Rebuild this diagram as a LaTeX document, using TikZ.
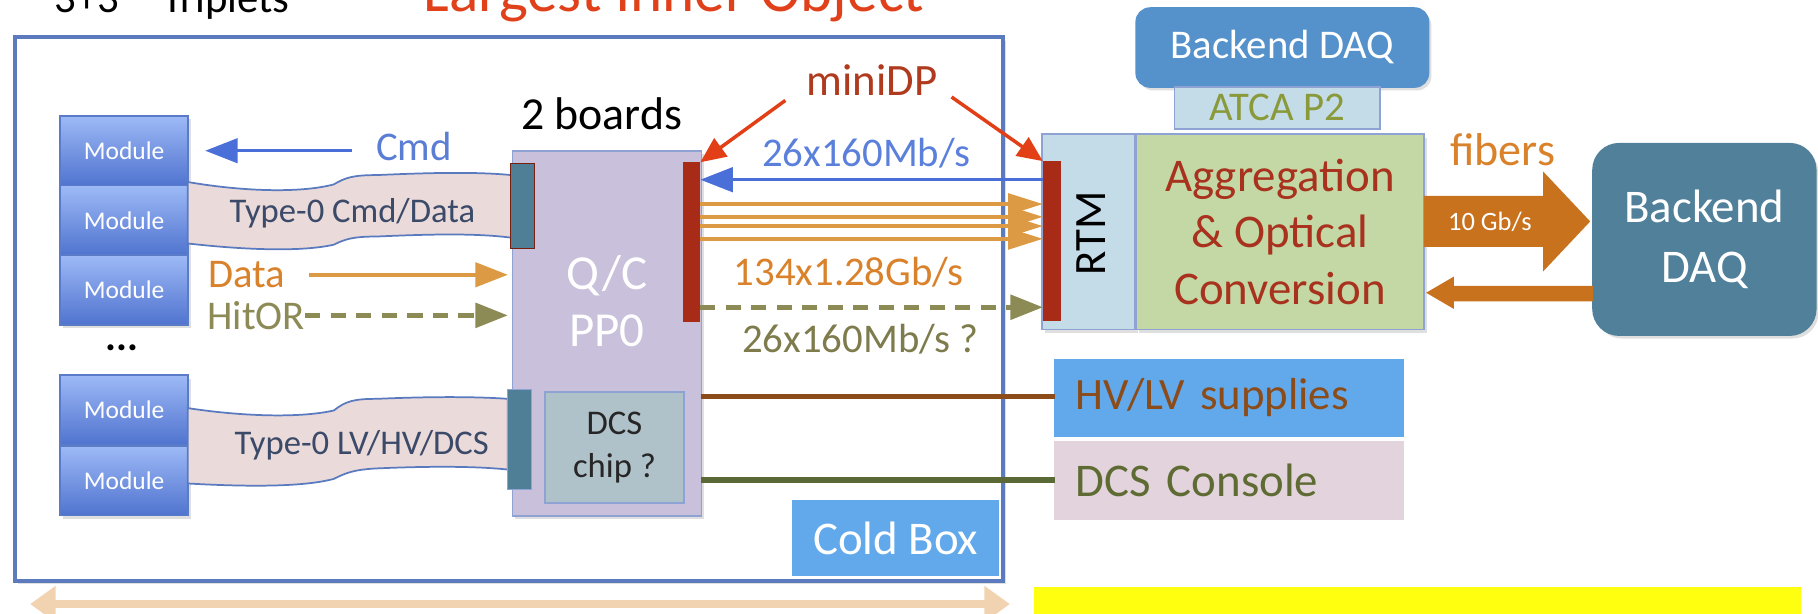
\documentclass[tikz,border=0pt]{standalone}
\usepackage{fontspec}
\setmainfont{Carlito}
\usetikzlibrary{arrows.meta,positioning,shadows}

\definecolor{coldline}{HTML}{5B7BBE}
\definecolor{modtop}{HTML}{9DB9F6}
\definecolor{modbot}{HTML}{5074CF}
\definecolor{modline}{HTML}{5A7BC8}
\definecolor{cmdblue}{HTML}{4A6FD8}
\definecolor{cmdtext}{HTML}{5A7ED4}
\definecolor{ribbon}{HTML}{EBDADA}
\definecolor{ribline}{HTML}{5A7ABF}
\definecolor{ribtext}{HTML}{3A4A68}
\definecolor{plugteal}{HTML}{4F7F96}
\definecolor{dataorange}{HTML}{DD9A45}
\definecolor{datatext}{HTML}{D9822B}
\definecolor{hitolive}{HTML}{8C8A55}
\definecolor{ppfill}{HTML}{C9C0DB}
\definecolor{ppline}{HTML}{8EA2D3}
\definecolor{redbar}{HTML}{A82B17}
\definecolor{chipfill}{HTML}{AFC1C9}
\definecolor{minitext}{HTML}{B03A1E}
\definecolor{miniarrow}{HTML}{E23F16}
\definecolor{ratetext}{HTML}{5B80DC}
\definecolor{rtmfill}{HTML}{C3DCE8}
\definecolor{aggfill}{HTML}{C3D8A5}
\definecolor{aggtext}{HTML}{A8321E}
\definecolor{atcatext}{HTML}{8A9A3A}
\definecolor{daqtop}{HTML}{5592CC}
\definecolor{daqright}{HTML}{50809A}
\definecolor{fiber}{HTML}{C8721E}
\definecolor{skyblue}{HTML}{62A9EC}
\definecolor{supplytext}{HTML}{8B4C1A}
\definecolor{consfill}{HTML}{E3D3DD}
\definecolor{constext}{HTML}{5E6B33}
\definecolor{brownline}{HTML}{8B4C1A}
\definecolor{greenline}{HTML}{5A6935}
\definecolor{peach}{HTML}{F2D3B1}
\definecolor{titlered}{HTML}{E0401A}
\definecolor{notebox}{HTML}{FFFF10}

\begin{document}
\begin{tikzpicture}[x=0.2mm, y=-0.2mm, >=Stealth]

		\tikzstyle{box}=[draw=ppline, line width=0.3mm, inner sep=0pt, outer sep=0pt, align=center]
		\tikzstyle{softshadow}=[drop shadow={opacity=0.25, shadow xshift=0.5mm, shadow yshift=-0.6mm}]
		\tikzstyle{module}=[box, softshadow, draw=modline, top color=modtop, bottom color=modbot,
		minimum width=22mm, minimum height=12mm, text=white, font=\fontsize{12.5}{14}\selectfont]
		\tikzstyle{plug}=[box, draw=redbar!70!black, line width=0.2mm, fill=plugteal, minimum width=4.2mm]
		\tikzstyle{bar}=[inner sep=0pt, outer sep=0pt, fill=redbar, minimum width=3mm, minimum height=27.6mm]
		\tikzstyle{ribbonpath}=[draw=ribline, line width=0.3mm, fill=ribbon]
		\tikzstyle{lbl}=[inner sep=0pt, font=\fontsize{20}{24}\selectfont]
		\tikzstyle{thinarrow}=[line width=0.6mm, -{Triangle[length=5.6mm, width=4.2mm]}]

		\useasboundingbox (0,0) rectangle (1568,529);
		\clip (0,0) rectangle (1568,529);
		\fill[white] (0,0) rectangle (1568,529);

		% titles, cut off at the top
		\node[lbl, anchor=base west, font=\fontsize{21}{24}\selectfont] (trip) at (47,11) {3+3\quad Triplets};
		\node[lbl, anchor=base west, text=titlered, font=\fontsize{30}{34}\selectfont] (inner) at (365,10) {Largest Inner Object};

		% Cold box
		\node[draw=coldline, line width=0.8mm, inner sep=0pt, softshadow, fill=white,
		minimum width=170.4mm, minimum height=93.8mm] (cold) at (439,266.5) {};
		\node[fill=skyblue, text=white, inner sep=0pt, minimum width=35.8mm, minimum height=13.2mm,
		font=\fontsize{23}{26}\selectfont] (coldlbl) at (772.5,464) {Cold Box};

		% Modules
		\node[module] (m1) at (107,130) {Module};
		\node[module] (m2) at (107,190) {Module};
		\node[module] (m3) at (107,250) {Module};
		\node[font=\bfseries\fontsize{20}{20}\selectfont] (dots) at (105,300) {...};
		\node[module] (m4) at (107,353.5) {Module};
		\node[module] (m5) at (107,414.5) {Module};

		% flex cables
		\draw[ribbonpath] (162,157) .. controls (215,166) and (262,166) .. (288,159)
		.. controls (298,153) and (305,151) .. (325,151) .. controls (370,149) and (410,148) .. (441,151)
		-- (441,205) .. controls (410,201) and (370,202) .. (325,204)
		.. controls (305,204) and (298,206) .. (288,211) .. controls (262,217) and (215,216) .. (162,210) -- cycle;
		\node[text=ribtext, font=\fontsize{17}{20}\selectfont] (rib1) at (304,184) {Type-0 Cmd/Data};

		\draw[ribbonpath] (162,352) .. controls (215,360) and (262,360) .. (288,354)
		.. controls (298,346) and (305,344) .. (325,344) .. controls (370,342) and (410,342) .. (438,344)
		-- (438,405) .. controls (410,402) and (370,402) .. (325,404)
		.. controls (305,405) and (298,408) .. (288,413) .. controls (262,420) and (215,420) .. (162,417) -- cycle;
		\node[text=ribtext, font=\fontsize{17}{20}\selectfont] (rib2) at (312,384) {Type-0 LV/HV/DCS};

		% PP0 boards
		\node[box, softshadow, fill=ppfill, minimum width=32.6mm, minimum height=63mm] (pp0) at (523.5,287.5) {};
		\node[text=white, align=center, font=\fontsize{24}{28}\selectfont] (qc) at (523.5,260) {Q/C\\PP0};
		\node[lbl, font=\fontsize{22.5}{24}\selectfont] (boards) at (519,98) {2 boards};
		\node[plug, minimum height=14.6mm] (plug1) at (450.5,177.5) {};
		\node[plug, draw=ppline, minimum height=17.2mm] (plug2) at (448,379) {};
		\node[bar] (barA) at (596.5,209) {};
		\node[box, fill=chipfill, text=black!85, minimum width=24mm, minimum height=19.2mm,
		font=\fontsize{17}{21}\selectfont] (chip) at (530,386) {DCS\\chip ?};

		% Back end crate
		\node[box, softshadow, fill=rtmfill, minimum width=16mm, minimum height=33.7mm] (rtm) at (939,200) {};
		\node[rotate=90, font=\fontsize{22}{24}\selectfont] (rtmtxt) at (941,201) {RTM};
		\node[bar, minimum width=3.2mm] (barB) at (907.5,208) {};
		\node[box, softshadow, fill=aggfill, text=aggtext, minimum width=49.6mm, minimum height=33.7mm,
		font=\fontsize{23}{27.6}\selectfont] (agg) at (1104,200) {Aggregation\\\& Optical\\Conversion};
		\node[box, softshadow, draw=daqtop, fill=daqtop, rounded corners=2.4mm, text=white, minimum width=50.4mm,
		minimum height=13.6mm, font=\fontsize{20}{22}\selectfont] (daq1) at (1106,41) {Backend DAQ};
		\node[box, fill=rtmfill, text=atcatext, minimum width=35.4mm, minimum height=7.2mm,
		font=\fontsize{20}{22}\selectfont] (atca) at (1101.5,93) {ATCA P2};
		\node[box, softshadow, draw=daqright, fill=daqright, rounded corners=4.5mm, text=white, minimum width=38.4mm,
		minimum height=33mm, font=\fontsize{23}{29.6}\selectfont] (daq2) at (1470,206.5) {Backend\\DAQ};
		\node[lbl, text=datatext, font=\fontsize{22.6}{24}\selectfont] (fib) at (1296,129) {fibers};

		% fibers
		\fill[fiber] (1228,169) -- (1331,169) -- (1331,148) -- (1371.5,191) -- (1331,234) -- (1331,213) -- (1228,213) -- cycle;
		\node[text=white, font=\fontsize{13}{14}\selectfont] (gbs) at (1285,191) {10 Gb/s};
		\fill[fiber] (1374,246.5) -- (1254,246.5) -- (1254,238.5) -- (1230,252.5) -- (1254,266.5) -- (1254,260) -- (1374,260) -- cycle;

		% Services
		\node[box, draw=skyblue, fill=skyblue, text=supplytext, minimum width=60mm, minimum height=13.2mm,
		text width=52.8mm, align=left, font=\fontsize{22}{24}\selectfont] (hvlv) at (1060,343) {HV/LV supplies};
		\node[box, draw=consfill, fill=consfill, text=constext, minimum width=60mm, minimum height=13.2mm,
		text width=52.8mm, align=left, font=\fontsize{23}{24}\selectfont] (dcs) at (1060,414.5) {DCS Console};
		\fill[notebox] (892,506) rectangle (1553,540);

		% Module links
		\node[lbl, text=cmdtext] (cmd) at (357,126) {Cmd};
		\draw[cmdblue, thinarrow, shorten >=3mm] ([xshift=-4mm]cmd.west |- m1.east) -- (m1.east);
		\node[lbl, text=datatext] (dataL) at (213,237) {Data};
		\draw[dataorange, thinarrow, shorten >=0.8mm] ([xshift=4mm]dataL.east) -- (pp0.west |- dataL);
		\node[lbl, text=hitolive] (hitL) at (221,272) {HitOR};
		\draw[hitolive, thinarrow, line width=0.8mm, dash pattern=on 2.6mm off 1.8mm, shorten >=0.8mm] (hitL.east) -- (pp0.west |- hitL);

		% Links to the RTM
		\draw[cmdblue, thinarrow] (barB.west |- 0,155) -- (barA.east |- 0,155);
		\foreach \yy in {176,187,195,206}
		\draw[dataorange, line width=0.6mm, -{Triangle[length=6mm, width=3.6mm]}] (barA.east |- 0,\yy) -- (barB.west |- 0,\yy);
		\draw[hitolive, thinarrow, line width=0.8mm, dash pattern=on 2.6mm off 1.8mm] (barA.east |- 0,265) -- (barB.west |- 0,265);
		\node[lbl, text=ratetext] (r1) at (747,132) {26x160Mb/s};
		\node[lbl, text=datatext] (r2) at (732,235) {134x1.28Gb/s};
		\node[lbl, text=hitolive!90!black] (r3) at (742,293) {26x160Mb/s ?};
		\node[lbl, text=minitext, font=\fontsize{22}{24}\selectfont] (mini) at (752,69) {miniDP};
		\draw[miniarrow, line width=0.6mm, -{Triangle[length=4.4mm, width=3.8mm]}] (mini.south west) ++(-18,4) -- (barA.north east);
		\draw[miniarrow, line width=0.6mm, -{Triangle[length=4.4mm, width=3.8mm]}] (mini.south east) ++(12,1) -- (barB.north west);

		\draw[brownline, line width=0.9mm] (pp0.east |- 0,342) -- (hvlv.west |- 0,342);
		\draw[greenline, line width=0.9mm] (pp0.east |- 0,414) -- (dcs.west |- 0,414);

		% span of the box
		\draw[peach, line width=1.3mm, {Triangle[length=4.4mm, width=6mm]}-{Triangle[length=4.4mm, width=6mm]}]
		([shift={(15,18)}]cold.south west) -- ([shift={(4,18)}]cold.south east);

\end{tikzpicture}
\end{document}
